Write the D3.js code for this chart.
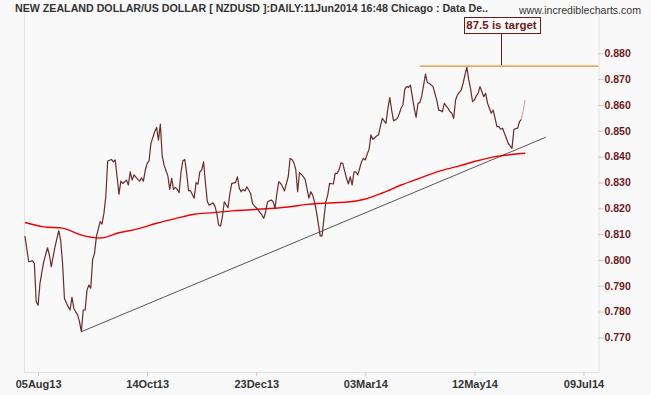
<!DOCTYPE html>
<html><head><meta charset="utf-8">
<script src="https://cdn.jsdelivr.net/npm/d3@7"></script>
<style>html,body{margin:0;padding:0;background:#f9f9f9;} svg{display:block;}</style>
</head><body>
<svg id="chart" width="651" height="395"></svg>
<script>
// ---- data ----
const sessions = [0,2,4,5,6,7,8,10,12,13,14,16,18,19,20,21,23,24,25,26,27,28,29,30,31,32,33,34,35,36,37,38,40,41,42,43,44,46,47,48,49,50,51,52,54,55,56,57,58,60,61,62,63,64,65,66,67,69,70,71,72,73,74,76,77,78,79,80,81,82,83,84,85,86,87,88,90,91,92,93,94,95,96,97,98,100,101,102,103,104,105,106,108,109,110,112,113,114,115,116,117,118,120,121,122,123,124,125,126,127,128,129,131,132,133,134,135,136,137,138,140,141,142,143,144,145,146,147,148,149,151,152,153,154,155,157,158,159,160,161,162,164,165,166,167,168,169,171,172,173,174,175,176,177,179,180,181,182,183,184,185,187,188,189,190,191,192,193,194,195,196,197,198,199,200,201,202,203,204,205,206,207,208,209,210,211,212,213,214,215,217,218,219,220,221,222,223,224,225,226,227,228,229,230,232,233,234,235,236,237,238,239,240,241,242,243,244,245,246,247,248,249,250,251,252,253,254,255,256,257,259,260,262,263,264,265,266];
const closes = [0.8092,0.7993,0.7996,0.7987,0.7838,0.7825,0.7910,0.7993,0.8047,0.8019,0.7974,0.8051,0.8113,0.8077,0.7987,0.7851,0.7819,0.7806,0.7855,0.7812,0.7799,0.7787,0.7761,0.7722,0.7806,0.7806,0.7883,0.7903,0.7890,0.8002,0.8025,0.8090,0.8148,0.8139,0.8180,0.8245,0.8383,0.8389,0.8380,0.8387,0.8322,0.8254,0.8305,0.8296,0.8309,0.8290,0.8341,0.8309,0.8329,0.8312,0.8305,0.8318,0.8305,0.8348,0.8374,0.8383,0.8451,0.8496,0.8513,0.8464,0.8526,0.8402,0.8367,0.8325,0.8273,0.8316,0.8273,0.8281,0.8273,0.8260,0.8341,0.8384,0.8389,0.8335,0.8268,0.8268,0.8239,0.8299,0.8293,0.8341,0.8348,0.8380,0.8296,0.8225,0.8212,0.8221,0.8209,0.8180,0.8135,0.8131,0.8167,0.8225,0.8202,0.8258,0.8296,0.8299,0.8322,0.8277,0.8264,0.8273,0.8267,0.8283,0.8258,0.8219,0.8209,0.8202,0.8193,0.8183,0.8174,0.8161,0.8187,0.8225,0.8232,0.8225,0.8200,0.8258,0.8303,0.8296,0.8283,0.8267,0.8322,0.8393,0.8389,0.8376,0.8351,0.8264,0.8338,0.8331,0.8322,0.8312,0.8239,0.8264,0.8251,0.8225,0.8187,0.8093,0.8093,0.8161,0.8225,0.8251,0.8296,0.8294,0.8335,0.8335,0.8348,0.8376,0.8374,0.8316,0.8294,0.8322,0.8290,0.8341,0.8341,0.8329,0.8380,0.8393,0.8387,0.8410,0.8428,0.8484,0.8467,0.8480,0.8484,0.8516,0.8548,0.8538,0.8529,0.8587,0.8628,0.8580,0.8539,0.8542,0.8548,0.8565,0.8587,0.8600,0.8661,0.8671,0.8668,0.8677,0.8632,0.8587,0.8552,0.8606,0.8609,0.8635,0.8677,0.8719,0.8686,0.8684,0.8671,0.8645,0.8619,0.8580,0.8578,0.8574,0.8606,0.8596,0.8587,0.8574,0.8568,0.8548,0.8619,0.8639,0.8658,0.8684,0.8716,0.8746,0.8697,0.8661,0.8613,0.8619,0.8635,0.8645,0.8671,0.8651,0.8632,0.8645,0.8606,0.8587,0.8568,0.8580,0.8548,0.8516,0.8516,0.8506,0.8510,0.8490,0.8471,0.8451,0.8432,0.8506,0.8510,0.8535,0.8544,0.8580,0.8619];
const lastFadedPoints = 3; // final points drawn in a paler tone (live bar)

const maSessions = [0,10,20,30,40,50,60,70,80,90,100,110,120,130,140,150,160,170,180,190,200,210,220,230,240,250,260,266];
const maValues = [0.8145,0.8128,0.8123,0.8096,0.8085,0.8105,0.8120,0.8142,0.8160,0.8177,0.8183,0.8190,0.8194,0.8199,0.8205,0.8215,0.8220,0.8223,0.8234,0.8259,0.8290,0.8317,0.8343,0.8362,0.8383,0.8400,0.8409,0.8413];

const trendSessions = [30, 277];
const trendValues = [0.7722, 0.8475];

const targetValue = 0.875;
const targetStartSession = 210;
const targetNoteSession = 253;
const targetLabel = "87.5 is target";

const yTickValues = [0.770,0.780,0.790,0.800,0.810,0.820,0.830,0.840,0.850,0.860,0.870,0.880];
const xTickSessions = [7,65,123,181,239,297];
const xTickLabels = ["05Aug13","14Oct13","23Dec13","03Mar14","12May14","09Jul14"];

const titleText = "NEW ZEALAND DOLLAR/US DOLLAR [ NZDUSD ]:DAILY:11Jun2014 16:48 Chicago : Data De..";
const sourceText = "www.incrediblecharts.com";

// ---- layout ----
const W = 651, H = 395;
const plot = {left: 24, right: 598.5, top: 13, bottom: 372};
const FONT = "'Liberation Sans', Arial, Helvetica, sans-serif";

const svg = d3.select("#chart");
svg.append("rect").attr("width", W).attr("height", H).attr("fill", "#f9f9f9");

const x = d3.scaleLinear().domain([-0.5, 305]).range([plot.left, plot.right]);
const y = d3.scaleLinear().domain([0.7566, 0.8956]).range([plot.bottom, plot.top]);

// frame
const frame = svg.append("g").attr("stroke", "#e2e2e2").attr("stroke-width", 1).attr("fill", "none");
frame.append("line").attr("x1", plot.left + 0.5).attr("x2", plot.left + 0.5).attr("y1", plot.top).attr("y2", plot.bottom);
frame.append("line").attr("x1", plot.left).attr("x2", plot.right).attr("y1", plot.bottom + 0.5).attr("y2", plot.bottom + 0.5);

// right axis
const yAxis = svg.append("g").attr("transform", `translate(${plot.right},0)`)
  .call(d3.axisRight(y).tickValues(yTickValues).tickFormat(d3.format(".3f")).tickSize(5).tickPadding(1).tickSizeOuter(0));
yAxis.select(".domain").attr("stroke", "#e2e2e2");
yAxis.selectAll(".tick line").attr("stroke", "#c8c8c8");
yAxis.selectAll(".tick text").attr("fill", "#6b1a1a").attr("font-family", FONT)
  .attr("font-weight", "bold").attr("font-size", "10.5px");

// bottom axis
const xAxis = svg.append("g").attr("transform", `translate(0,${plot.bottom})`)
  .call(d3.axisBottom(x).tickValues(xTickSessions).tickFormat((d, i) => xTickLabels[i]).tickSize(4).tickPadding(4).tickSizeOuter(0));
xAxis.select(".domain").remove();
xAxis.selectAll(".tick line").attr("stroke", "#c8c8c8");
xAxis.selectAll(".tick text").attr("fill", "#333").attr("font-family", FONT)
  .attr("font-weight", "bold").attr("font-size", "11px");

// target line
svg.append("line")
  .attr("x1", x(targetStartSession)).attr("x2", plot.right)
  .attr("y1", y(targetValue)).attr("y2", y(targetValue))
  .attr("stroke", "#ee8a2a").attr("stroke-width", 1.3);

// trend line
const lineGen = d3.line().x(d => x(d[0])).y(d => y(d[1]));
svg.append("path")
  .attr("d", lineGen(trendSessions.map((s, i) => [s, trendValues[i]])))
  .attr("fill", "none").attr("stroke", "#555").attr("stroke-width", 1);

// moving average
svg.append("path")
  .attr("d", d3.line().curve(d3.curveMonotoneX).x(d => x(d[0])).y(d => y(d[1]))(maSessions.map((s, i) => [s, maValues[i]])))
  .attr("fill", "none").attr("stroke", "#f00000").attr("stroke-width", 1.4);

// price
const pts = sessions.map((s, i) => [s, closes[i]]);
const split = pts.length - lastFadedPoints + 1;
svg.append("path").attr("d", lineGen(pts.slice(0, split)))
  .attr("fill", "none").attr("stroke", "#6b2a2a").attr("stroke-width", 1.2).attr("stroke-linejoin", "round");
svg.append("path").attr("d", lineGen(pts.slice(split - 1)))
  .attr("fill", "none").attr("stroke", "#dca4a4").attr("stroke-width", 1.2);

// annotation
const ax = Math.round(x(targetNoteSession)) + 0.5;
const ay = y(targetValue);
const boxW = 76, boxH = 16, boxBottom = ay - 33;
svg.append("line").attr("x1", ax).attr("x2", ax).attr("y1", boxBottom).attr("y2", ay - 1)
  .attr("stroke", "#6b1a1a").attr("stroke-width", 1);
svg.append("rect").attr("x", Math.round(ax - boxW / 2) + 0.5).attr("y", Math.round(boxBottom - boxH) + 0.5)
  .attr("width", boxW).attr("height", boxH)
  .attr("fill", "#fbfbfb").attr("stroke", "#6b1a1a").attr("stroke-width", 1);
svg.append("text").attr("x", ax).attr("y", boxBottom - 4)
  .attr("text-anchor", "middle").attr("fill", "#6b1a1a").attr("font-family", FONT)
  .attr("font-weight", "bold").attr("font-size", "11.5px").text(targetLabel);

// title and source
svg.append("text").attr("x", 15).attr("y", 12).attr("fill", "#333").attr("font-family", FONT)
  .attr("font-weight", "bold").attr("font-size", "10.5px")
  .attr("textLength", 473).attr("lengthAdjust", "spacingAndGlyphs").text(titleText);
svg.append("text").attr("x", 519).attr("y", 14).attr("fill", "#333").attr("font-family", FONT)
  .attr("font-size", "10.5px")
  .attr("textLength", 122).attr("lengthAdjust", "spacingAndGlyphs").text(sourceText);
</script>
</body></html>
